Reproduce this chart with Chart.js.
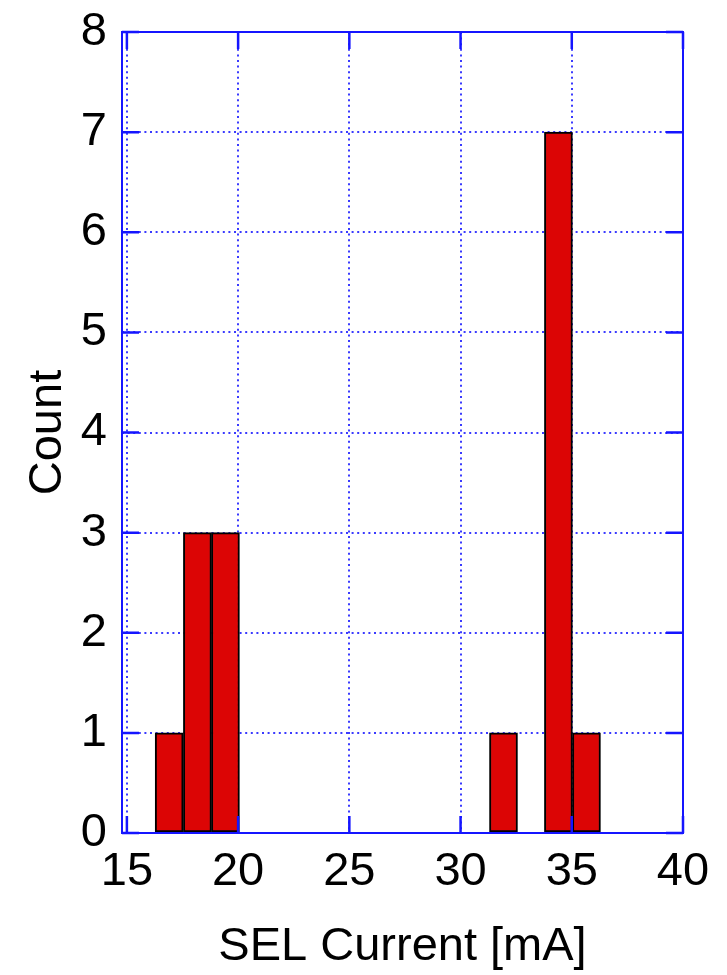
<!DOCTYPE html>
<html>
<head>
<meta charset="utf-8">
<script src="https://cdn.jsdelivr.net/npm/chart.js@4/dist/chart.umd.min.js"></script>
<style>
  html, body { margin: 0; padding: 0; background: #fff; }
  #wrap { width: 727px; height: 975px; }
</style>
</head>
<body>
<div id="wrap"><canvas id="c" width="727" height="975"></canvas></div>
<script>
// ---- data ----
const binCenters = [16.90, 18.17, 19.43, 31.93, 34.40, 35.66];
const counts     = [1, 3, 3, 1, 7, 1];
const xTicks     = [15, 20, 25, 30, 35, 40];
const yTicks     = [0, 1, 2, 3, 4, 5, 6, 7, 8];
const xTitle = 'SEL Current [mA]';
const yTitle = 'Count';

const FONT = "'Liberation Sans', Arial, sans-serif";
const BLUE = '#1515ff';

const frameAndTicks = {
  id: 'frameAndTicks',
  afterDatasetsDraw(chart) {
    const { ctx, chartArea: a, scales } = chart;
    const len = 17;
    ctx.save();
    ctx.strokeStyle = BLUE;
    ctx.lineWidth = 2.5;
    ctx.beginPath();
    scales.x.ticks.forEach(t => {
      const px = scales.x.getPixelForValue(t.value);
      ctx.moveTo(px, a.bottom); ctx.lineTo(px, a.bottom - len);
      ctx.moveTo(px, a.top); ctx.lineTo(px, a.top + len);
    });
    scales.y.ticks.forEach(t => {
      const py = scales.y.getPixelForValue(t.value);
      ctx.moveTo(a.left, py); ctx.lineTo(a.left + len, py);
      ctx.moveTo(a.right, py); ctx.lineTo(a.right - len, py);
    });
    ctx.stroke();
    ctx.lineWidth = 2;
    ctx.strokeRect(a.left, a.top, a.right - a.left, a.bottom - a.top);
    ctx.restore();
  }
};

new Chart(document.getElementById('c'), {
  type: 'bar',
  data: {
    datasets: [{
      data: binCenters.map((x, i) => ({ x: x, y: counts[i] })),
      backgroundColor: '#dc0505',
      borderColor: '#000000',
      borderWidth: 2,
      borderSkipped: false,
      barPercentage: 1.0,
      categoryPercentage: 1.0
    }]
  },
  options: {
    responsive: false,
    animation: false,
    devicePixelRatio: 1,
    layout: { padding: { left: 0, right: 44, top: 32, bottom: 0 } },
    plugins: { legend: { display: false }, tooltip: { enabled: false } },
    scales: {
      x: {
        type: 'linear',
        offset: false,
        min: 14.78,
        max: 40,
        afterBuildTicks: s => { s.ticks = xTicks.map(v => ({ value: v })); },
        afterFit: s => { s.height = 142; s.paddingLeft = 0; s.paddingRight = 0; },
        grid: { color: '#3a3aff', lineWidth: 2, drawTicks: false, offset: false },
        border: { display: false, dash: [2, 3.6] },
        ticks: { color: '#000', font: { family: FONT, size: 47 }, padding: 11, maxRotation: 0, autoSkip: false },
        title: { display: true, text: xTitle, color: '#000', font: { family: FONT, size: 47 }, padding: { top: 0, bottom: 0 } }
      },
      y: {
        type: 'linear',
        min: 0,
        max: 8,
        afterBuildTicks: s => { s.ticks = yTicks.map(v => ({ value: v })); },
        afterFit: s => { s.width = 122; s.paddingTop = 0; s.paddingBottom = 0; },
        grid: { color: '#3a3aff', lineWidth: 2, drawTicks: false },
        border: { display: false, dash: [2, 3.6] },
        ticks: { color: '#000', font: { family: FONT, size: 47 }, padding: 15, autoSkip: false },
        title: { display: true, text: yTitle, color: '#000', font: { family: FONT, size: 47 }, padding: { top: 20, bottom: 0 } }
      }
    }
  },
  plugins: [frameAndTicks]
});
</script>
</body>
</html>
